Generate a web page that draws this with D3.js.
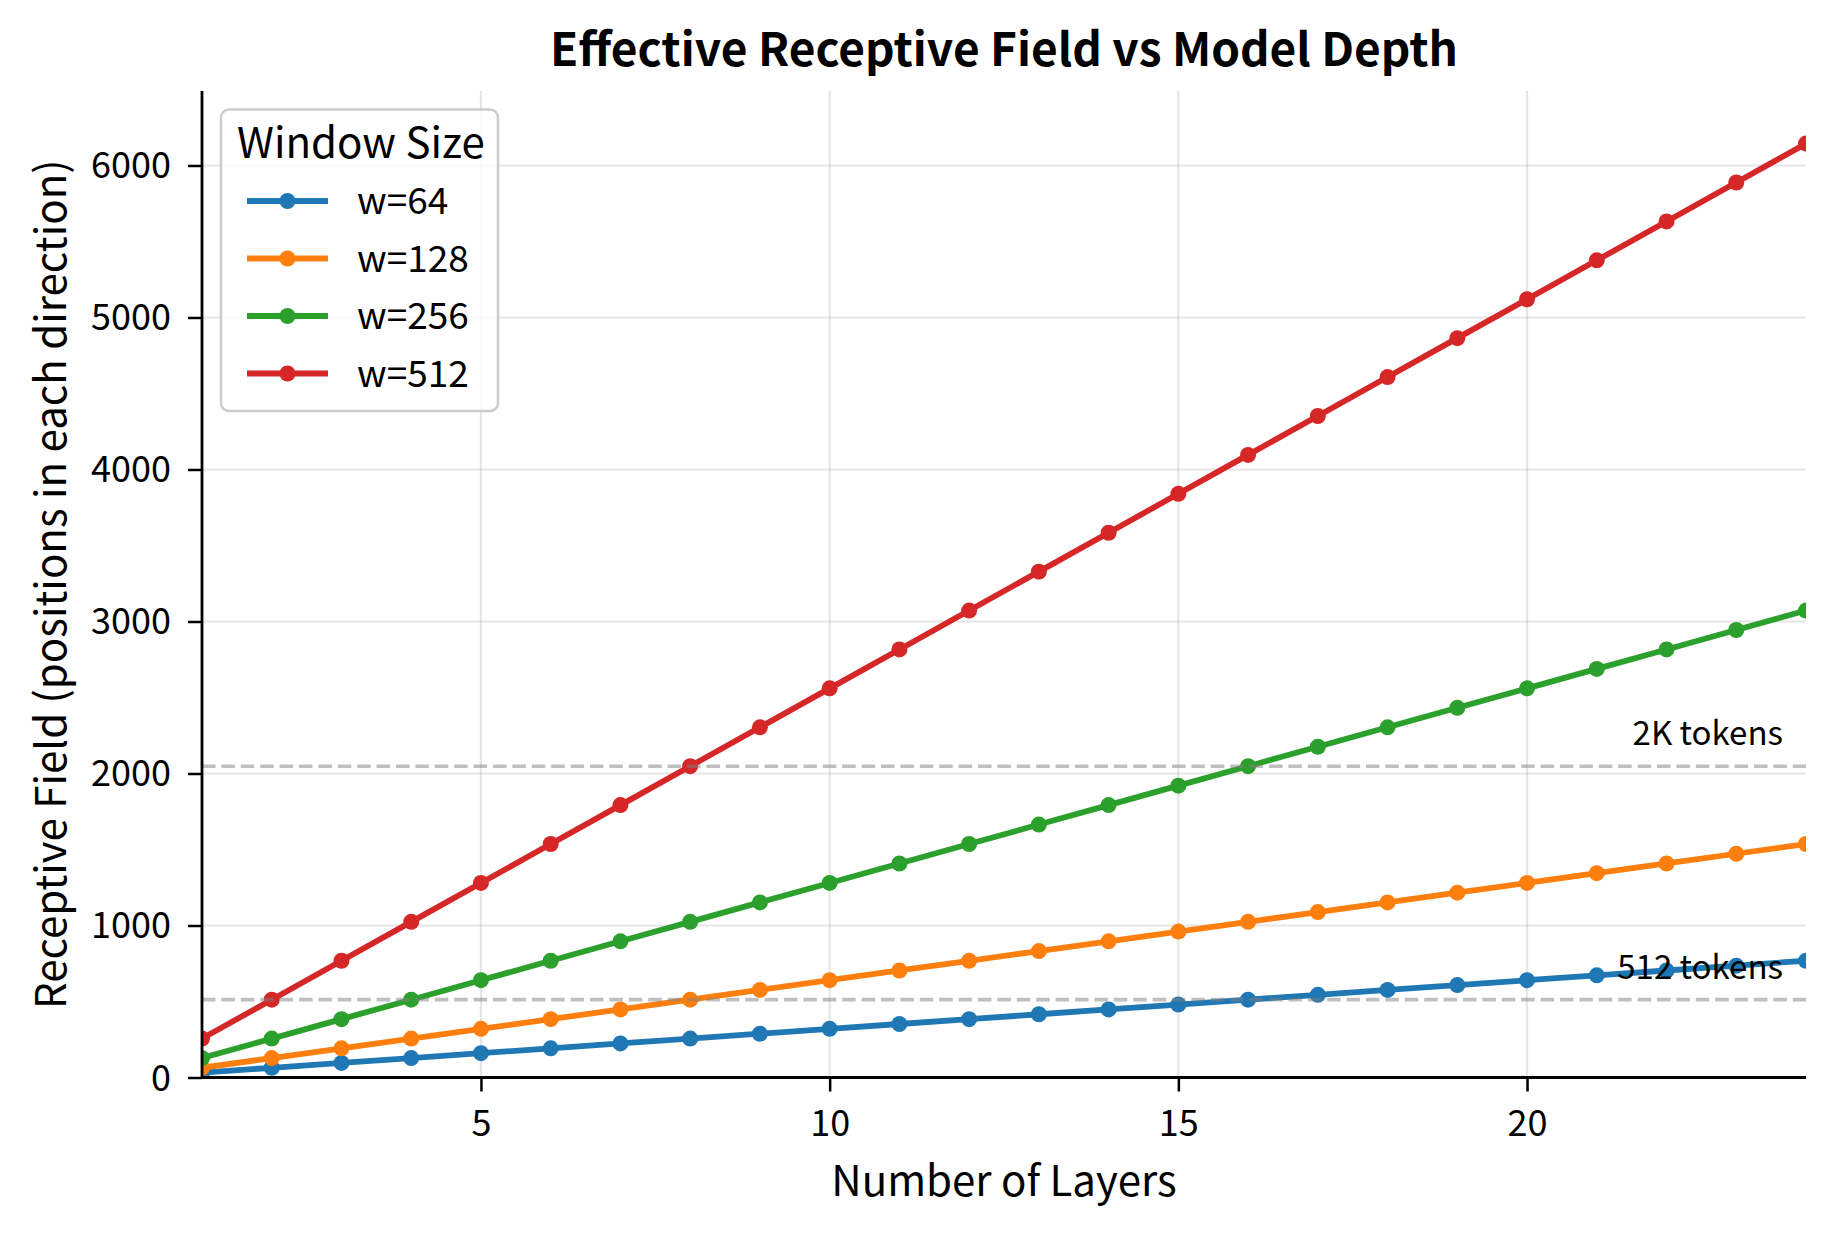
<!DOCTYPE html>
<html>
<head>
<meta charset="utf-8">
<style>
  body { margin: 0; background: #fff; }
  text { font-family: "Noto Sans CJK JP", "Noto Sans", sans-serif; fill: #000; }
</style>
</head>
<body>
<script src="https://cdn.jsdelivr.net/npm/d3@7"></script>
<script>
// data
var layers = [1,2,3,4,5,6,7,8,9,10,11,12,13,14,15,16,17,18,19,20,21,22,23,24];
var w64  = [32,64,96,128,160,192,224,256,288,320,352,384,416,448,480,512,544,576,608,640,672,704,736,768];
var w128 = [64,128,192,256,320,384,448,512,576,640,704,768,832,896,960,1024,1088,1152,1216,1280,1344,1408,1472,1536];
var w256 = [128,256,384,512,640,768,896,1024,1152,1280,1408,1536,1664,1792,1920,2048,2176,2304,2432,2560,2688,2816,2944,3072];
var w512 = [256,512,768,1024,1280,1536,1792,2048,2304,2560,2816,3072,3328,3584,3840,4096,4352,4608,4864,5120,5376,5632,5888,6144];
var seriesNames = ["w=64", "w=128", "w=256", "w=512"];
var seriesColors = ["#1f77b4", "#ff7f0e", "#2ca02c", "#d62728"];
var xTicks = [5, 10, 15, 20];
var yTicks = [0, 1000, 2000, 3000, 4000, 5000, 6000];
var refLines = [{ value: 2048, label: "2K tokens" }, { value: 512, label: "512 tokens" }];

var series = [w64, w128, w256, w512];

var width = 1834, height = 1234;
var plotL = 202, plotR = 1806, plotT = 91, plotB = 1077.5;

var svg = d3.select("body").append("svg")
    .attr("width", width).attr("height", height);

var x = d3.scaleLinear().domain([1, 24]).range([plotL, plotR]);
var y = d3.scaleLinear().domain([0, 6490]).range([plotB, plotT]);

svg.append("defs").append("clipPath").attr("id", "plot")
  .append("rect")
    .attr("x", plotL).attr("y", plotT)
    .attr("width", plotR - plotL).attr("height", plotB - plotT);

// grid
var grid = svg.append("g");
grid.selectAll(".gx").data(xTicks).enter().append("line")
    .attr("x1", d => x(d)).attr("x2", d => x(d))
    .attr("y1", plotT).attr("y2", plotB)
    .attr("stroke", "#b0b0b0").attr("stroke-opacity", 0.32).attr("stroke-width", 2.2);
grid.selectAll(".gy").data(yTicks).enter().append("line")
    .attr("x1", plotL).attr("x2", plotR)
    .attr("y1", d => y(d)).attr("y2", d => y(d))
    .attr("stroke", "#b0b0b0").attr("stroke-opacity", 0.32).attr("stroke-width", 2.2);

// series
var plot = svg.append("g").attr("clip-path", "url(#plot)");
var line = d3.line().x((d, i) => x(layers[i])).y(d => y(d));

series.forEach(function (vals, k) {
  plot.append("path")
      .datum(vals)
      .attr("d", line)
      .attr("fill", "none")
      .attr("stroke", seriesColors[k])
      .attr("stroke-width", 5.8)
      .attr("stroke-linejoin", "round");
  plot.selectAll(".m" + k).data(vals).enter().append("circle")
      .attr("cx", (d, i) => x(layers[i]))
      .attr("cy", d => y(d))
      .attr("r", 8)
      .attr("fill", seriesColors[k]);
});

// reference lines
plot.selectAll(".ref").data(refLines).enter().append("line")
    .attr("x1", plotL).attr("x2", plotR)
    .attr("y1", d => y(d.value)).attr("y2", d => y(d.value))
    .attr("stroke", "gray").attr("stroke-opacity", 0.5)
    .attr("stroke-width", 3.6).attr("stroke-dasharray", "13.5 5.9");

svg.selectAll(".reflabel").data(refLines).enter().append("text")
    .attr("x", x(23.67))
    .attr("y", d => y(d.value) - 21)
    .attr("text-anchor", "end")
    .style("font-size", "33px")
    .text(d => d.label);

// axes
var xAxis = svg.append("g")
    .attr("transform", "translate(0," + plotB + ")")
    .call(d3.axisBottom(x).tickValues(xTicks).tickSize(14).tickFormat(d3.format("d")));
xAxis.selectAll("text").attr("y", 58).attr("dy", null).style("font-size", "36px");

var yAxis = svg.append("g")
    .attr("transform", "translate(" + plotL + ",0)")
    .call(d3.axisLeft(y).tickValues(yTicks).tickSize(14).tickFormat(d3.format("d")));
yAxis.selectAll("text").attr("x", -31).attr("dy", null).attr("y", 12.5).style("font-size", "36px");

[xAxis, yAxis].forEach(function (a) {
  a.select(".domain").attr("stroke", "#000").attr("stroke-width", 2.8);
  a.selectAll(".tick line").attr("stroke", "#000").attr("stroke-width", 2.5);
  a.selectAll("text").attr("fill", "#000").style("font-family", '"Noto Sans CJK JP", sans-serif');
});
xAxis.select(".domain").attr("d", "M" + plotL + ",0H" + plotR);
yAxis.select(".domain").attr("d", "M0," + plotT + "V" + plotB);

// labels
svg.append("text")
    .attr("x", (plotL + plotR) / 2).attr("y", 66)
    .attr("text-anchor", "middle")
    .style("font-size", "46px").style("font-weight", "bold")
    .text("Effective Receptive Field vs Model Depth");

svg.append("text")
    .attr("x", (plotL + plotR) / 2).attr("y", 1196)
    .attr("text-anchor", "middle")
    .style("font-size", "42px")
    .text("Number of Layers");

svg.append("text")
    .attr("transform", "translate(66," + (plotT + plotB) / 2 + ") rotate(-90)")
    .attr("text-anchor", "middle")
    .style("font-size", "42px")
    .text("Receptive Field (positions in each direction)");

// legend
var legend = svg.append("g");
legend.append("rect")
    .attr("x", 221).attr("y", 109.5)
    .attr("width", 277).attr("height", 301.5)
    .attr("rx", 8)
    .attr("fill", "#fff").attr("fill-opacity", 0.8)
    .attr("stroke", "#cccccc").attr("stroke-width", 2.5);
legend.append("text")
    .attr("x", 237).attr("y", 158)
    .style("font-size", "42px")
    .text("Window Size");

var entry = legend.selectAll(".entry").data(seriesNames).enter().append("g")
    .attr("transform", (d, i) => "translate(0," + (201 + i * 57.5) + ")");
entry.append("line")
    .attr("x1", 247).attr("x2", 328)
    .attr("stroke", (d, i) => seriesColors[i]).attr("stroke-width", 5.8);
entry.append("circle")
    .attr("cx", 287.5).attr("r", 8)
    .attr("fill", (d, i) => seriesColors[i]);
entry.append("text")
    .attr("x", 357).attr("y", 13)
    .style("font-size", "37px")
    .text(d => d);
</script>
</body>
</html>
